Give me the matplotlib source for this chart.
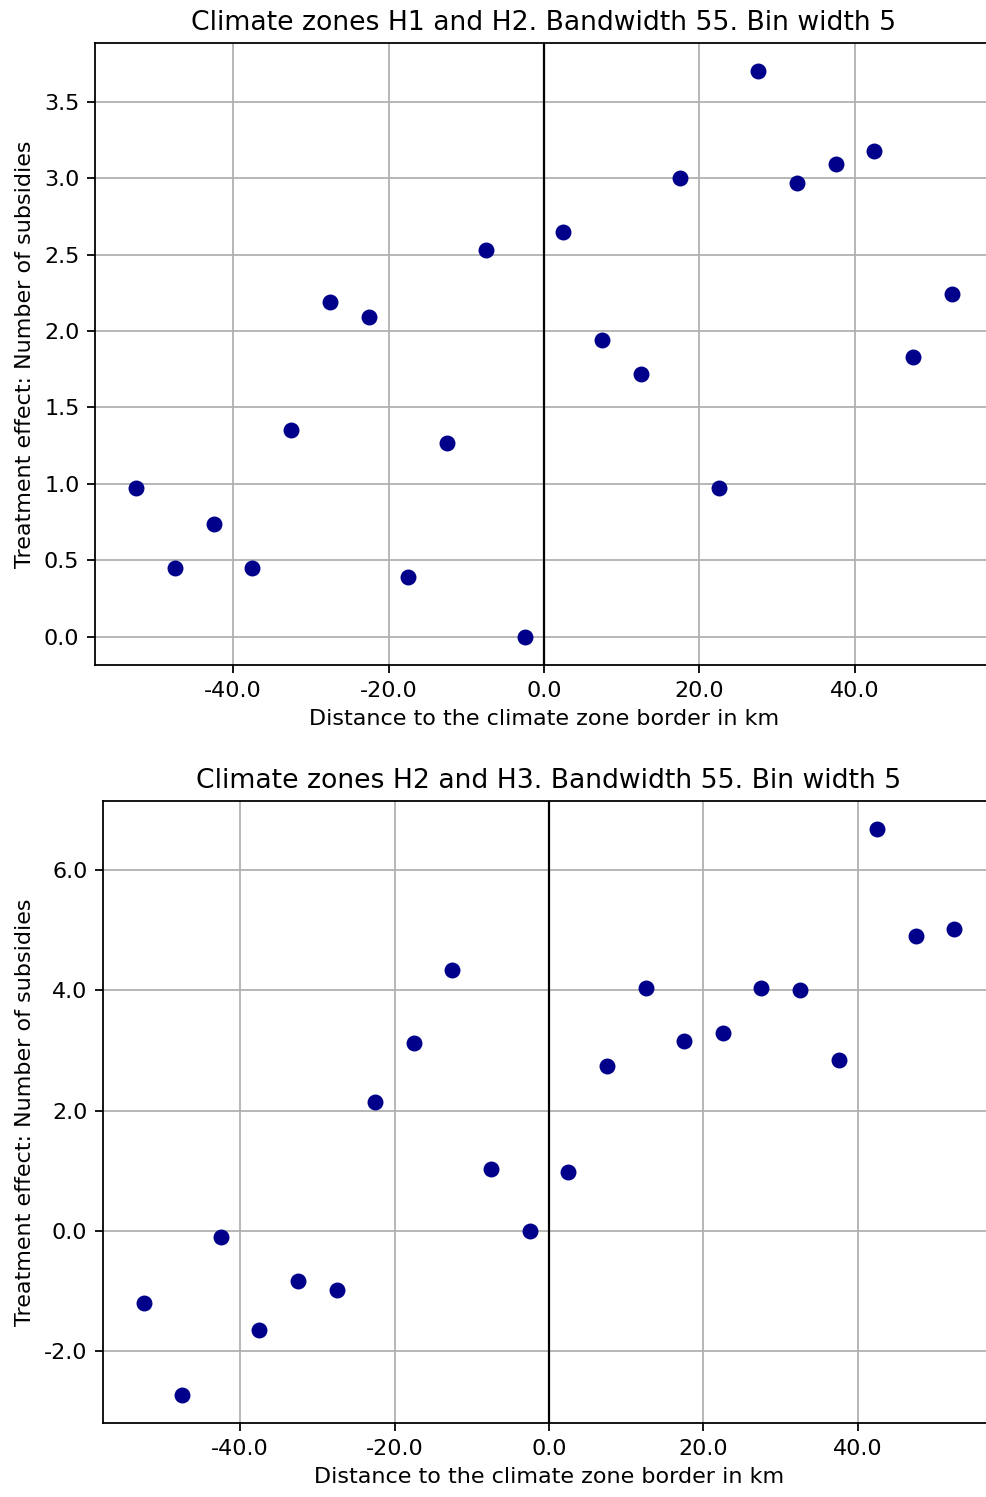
import matplotlib
matplotlib.use("Agg")
import matplotlib.pyplot as plt
from matplotlib.ticker import FormatStrFormatter

# bin centres (km)
bins = [-52.5, -47.5, -42.5, -37.5, -32.5, -27.5, -22.5, -17.5, -12.5, -7.5, -2.5,
        2.5, 7.5, 12.5, 17.5, 22.5, 27.5, 32.5, 37.5, 42.5, 47.5, 52.5]

effect_h1_h2 = [0.97, 0.45, 0.74, 0.45, 1.35, 2.19, 2.09, 0.39, 1.27, 2.53, 0.0,
                2.65, 1.94, 1.72, 3.00, 0.97, 3.70, 2.97, 3.09, 3.18, 1.83, 2.24]

effect_h2_h3 = [-1.20, -2.72, -0.10, -1.65, -0.83, -0.98, 2.15, 3.13, 4.34, 1.04, 0.0,
                0.98, 2.75, 4.04, 3.16, 3.30, 4.04, 4.01, 2.84, 6.68, 4.90, 5.02]

titles = ["Climate zones H1 and H2. Bandwidth 55. Bin width 5",
          "Climate zones H2 and H3. Bandwidth 55. Bin width 5"]

DPI = 160
fig, axes = plt.subplots(2, 1, figsize=(986 / DPI, 1497 / DPI), dpi=DPI)

for ax, vals, title in zip(axes, [effect_h1_h2, effect_h2_h3], titles):
    ax.scatter(bins, vals, color="darkblue", s=38, zorder=3)
    ax.axvline(0, color="black", linewidth=1, zorder=2)
    ax.grid(True)
    ax.set_axisbelow(True)
    ax.set_title(title)
    ax.set_xlabel("Distance to the climate zone border in km")
    ax.set_ylabel("Treatment effect: Number of subsidies")
    ax.xaxis.set_major_formatter(FormatStrFormatter("%.1f"))
    ax.yaxis.set_major_formatter(FormatStrFormatter("%.1f"))

axes[1].set_yticks([-2, 0, 2, 4, 6])

# right edge runs slightly past the image, as in the reference
axes[0].set_position([95 / 986, 1 - 665 / 1497, 898 / 986, 622 / 1497])
axes[1].set_position([103 / 986, 1 - 1423 / 1497, 892 / 986, 622 / 1497])

plt.savefig("out.png", dpi=DPI)
